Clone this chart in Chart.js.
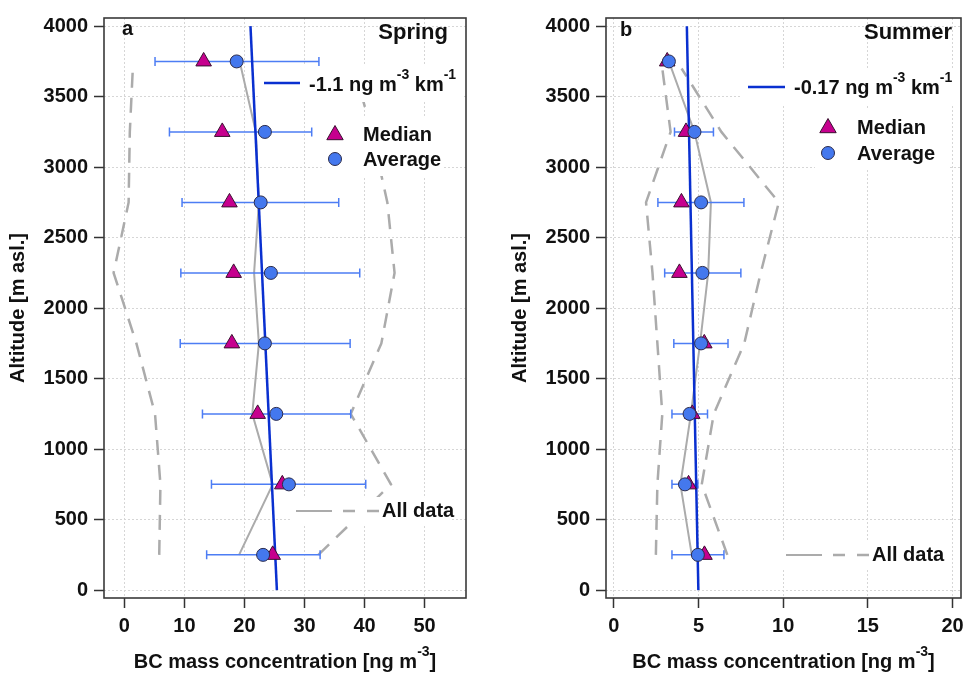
<!DOCTYPE html>
<html>
<head>
<meta charset="utf-8">
<script src="https://cdn.jsdelivr.net/npm/chart.js@4.4.1/dist/chart.umd.min.js"></script>
<style>
  html, body { margin: 0; padding: 0; background: #fff; }
  #wrap { position: relative; width: 971px; height: 673px; }
  canvas { position: absolute; top: 0; }
  #spring { left: 0; }
  #summer { left: 485px; }
</style>
</head>
<body>
<div id="wrap">
  <canvas id="spring" width="485" height="673"></canvas>
  <canvas id="summer" width="486" height="673"></canvas>
</div>
<script>
// altitude bins [m asl.]
const altitudes = [250, 750, 1250, 1750, 2250, 2750, 3250, 3750];
const bandAltitudes = [250, 750, 1250, 1750, 2250, 2750, 3250, 3700];
const yTicks = [0, 500, 1000, 1500, 2000, 2500, 3000, 3500, 4000];

// spring profiles [ng m-3]
const springAvg = [23.1, 27.4, 25.3, 23.4, 24.4, 22.7, 23.4, 18.7];
const springMedian = [24.7, 26.3, 22.2, 17.9, 18.2, 17.5, 16.3, 13.2];
const springSdLow = [13.7, 14.5, 13.0, 9.3, 9.4, 9.6, 7.5, 5.1];
const springSdHigh = [32.6, 40.2, 37.7, 37.6, 39.2, 35.7, 31.2, 32.4];
const springAllMedian = [19.1, 24.7, 21.3, 22.4, 21.6, 22.4, 21.9, 19.2];
const springAllLow = [5.8, 6.0, 5.1, 2.0, -1.8, 0.7, 0.9, 1.4];
const springAllHigh = [32.3, 44.4, 37.7, 42.8, 45.0, 43.8, 41.2, 38.3];
const springSlope = -1.1;      // ng m-3 km-1
const springIntercept = 25.4;
const springXTicks = [0, 10, 20, 30, 40, 50];

// summer profiles [ng m-3]
const summerAvg = [4.96, 4.2, 4.47, 5.15, 5.23, 5.15, 4.76, 3.25];
const summerMedian = [5.35, 4.41, 4.63, 5.34, 3.87, 3.99, 4.26, 3.15];
const summerSdLow = [3.43, 3.43, 3.43, 3.54, 3.0, 2.6, 3.58, 3.25];
const summerSdHigh = [6.5, 4.96, 5.53, 6.74, 7.5, 7.68, 5.88, 3.25];
const summerAllMedian = [4.6, 3.93, 4.55, 5.09, 5.57, 5.73, 4.76, 3.25];
const summerAllLow = [2.48, 2.57, 2.86, 2.57, 2.28, 1.9, 3.35, 2.86];
const summerAllHigh = [6.7, 5.19, 5.9, 7.7, 8.67, 9.74, 6.35, 4.0];
const summerSlope = -0.17;
const summerIntercept = 4.99;
const summerXTicks = [0, 5, 10, 15, 20];

const FONT = '"Liberation Sans", Arial, Helvetica, sans-serif';
const FS = 20;
const BLUE = '#4478EE';
const BAR_BLUE = '#4D7DF4';
const FIT_BLUE = '#0A30D0';
const MAGENTA = '#C6008E';
const GREY = '#ABABAB';
const INK = '#111';
const DASH = [15, 10];

function drawRich(ctx, parts, x, y, size, align) {
  const big = `bold ${size}px ${FONT}`;
  const small = `bold ${Math.round(size * 0.68)}px ${FONT}`;
  let total = 0;
  parts.forEach(([t, sup]) => { ctx.font = sup ? small : big; total += ctx.measureText(t).width; });
  let cx = align === 'center' ? x - total / 2 : align === 'right' ? x - total : x;
  ctx.textAlign = 'left';
  ctx.textBaseline = 'alphabetic';
  ctx.fillStyle = INK;
  parts.forEach(([t, sup]) => {
    ctx.font = sup ? small : big;
    ctx.fillText(t, cx, sup ? y - size * 0.62 : y);
    cx += ctx.measureText(t).width;
  });
}

function whiteBox(ctx, b) {
  ctx.fillStyle = '#fff';
  ctx.fillRect(b[0], b[1], b[2], b[3]);
}

const decor = {
  id: 'decor',
  beforeDatasetDraw(chart, args, o) {
    // error bars go under the fit line and the markers
    if (args.index !== 2) return;
    const ctx = chart.ctx, xs = chart.scales.x, ys = chart.scales.y;
    ctx.save();
    ctx.strokeStyle = BAR_BLUE;
    ctx.lineWidth = 1.5;
    o.low.forEach((lo, i) => {
      const hi = o.high[i];
      if (hi - lo <= 0) return;
      const y = ys.getPixelForValue(altitudes[i]);
      const x1 = xs.getPixelForValue(lo), x2 = xs.getPixelForValue(hi);
      ctx.beginPath();
      ctx.moveTo(x1, y); ctx.lineTo(x2, y);
      ctx.moveTo(x1, y - 4.5); ctx.lineTo(x1, y + 4.5);
      ctx.moveTo(x2, y - 4.5); ctx.lineTo(x2, y + 4.5);
      ctx.stroke();
    });
    ctx.restore();
  },
  afterDatasetsDraw(chart, args, o) {
    const ctx = chart.ctx;
    ctx.save();
    // fit legend
    whiteBox(ctx, o.fitBox);
    ctx.strokeStyle = FIT_BLUE;
    ctx.lineWidth = 2.5;
    ctx.beginPath();
    ctx.moveTo(o.fitLine[0], o.fitLine[2]);
    ctx.lineTo(o.fitLine[1], o.fitLine[2]);
    ctx.stroke();
    drawRich(ctx, [[o.fitLabel], ['-3', true], [' km'], ['-1', true]], o.fitText[0], o.fitText[1], FS, 'left');

    // marker legend
    whiteBox(ctx, o.markBox);
    const [mx, my1, my2, tx] = o.marks;
    ctx.lineWidth = 1;
    ctx.strokeStyle = '#3a1030';
    ctx.fillStyle = MAGENTA;
    ctx.beginPath();
    ctx.moveTo(mx, my1 - 9.5);
    ctx.lineTo(mx + 8.2, my1 + 4.7);
    ctx.lineTo(mx - 8.2, my1 + 4.7);
    ctx.closePath();
    ctx.fill(); ctx.stroke();
    ctx.strokeStyle = '#2b2b4b';
    ctx.fillStyle = BLUE;
    ctx.beginPath();
    ctx.arc(mx, my2, 6.5, 0, Math.PI * 2);
    ctx.fill(); ctx.stroke();
    ctx.fillStyle = INK;
    ctx.font = `bold ${FS}px ${FONT}`;
    ctx.textBaseline = 'middle';
    ctx.textAlign = 'left';
    ctx.fillText('Median', tx, my1);
    ctx.fillText('Average', tx, my2 + 1);

    // all-data legend: solid median then dashed band
    whiteBox(ctx, o.allBox);
    const [ax, ay] = o.allLine;
    ctx.strokeStyle = GREY;
    ctx.lineWidth = 2;
    ctx.beginPath();
    ctx.moveTo(ax, ay); ctx.lineTo(ax + 36, ay);
    ctx.stroke();
    ctx.lineWidth = 2.5;
    ctx.beginPath();
    ctx.moveTo(ax + 47, ay); ctx.lineTo(ax + 59, ay);
    ctx.moveTo(ax + 71, ay); ctx.lineTo(ax + 83, ay);
    ctx.stroke();
    ctx.fillStyle = INK;
    ctx.fillText('All data', ax + 86, ay);

    // panel letter and season
    ctx.font = `bold ${FS}px ${FONT}`;
    ctx.fillText(o.letter, o.letterPos[0], o.letterPos[1]);
    ctx.font = `bold 22px ${FONT}`;
    ctx.textAlign = 'right';
    ctx.fillText(o.season, o.seasonPos[0], o.seasonPos[1]);
    ctx.restore();
  },
  afterDraw(chart, args, o) {
    const ctx = chart.ctx, a = chart.chartArea;
    ctx.save();
    ctx.strokeStyle = '#3a3a3a';
    ctx.lineWidth = 1.6;
    ctx.strokeRect(a.left, a.top, a.right - a.left, a.bottom - a.top);

    // axis titles
    ctx.fillStyle = INK;
    ctx.font = `bold ${FS}px ${FONT}`;
    ctx.save();
    ctx.translate(o.yTitleX, (a.top + a.bottom) / 2);
    ctx.rotate(-Math.PI / 2);
    ctx.textAlign = 'center';
    ctx.textBaseline = 'middle';
    ctx.fillText('Altitude [m asl.]', 0, 0);
    ctx.restore();
    drawRich(ctx, [['BC mass concentration [ng m'], ['-3', true], [']']], (a.left + a.right) / 2, 668, FS, 'center');
    ctx.restore();
  }
};

function makePanel(canvasId, p) {
  const pts = (xs, ys) => xs.map((x, i) => ({ x, y: ys[i] }));
  const fitLine = [0, 4000].map(a => ({ x: p.intercept + p.slope * a / 1000, y: a }));
  const tickFont = { family: FONT, size: FS, weight: 'bold' };
  const plain = v => String(v);
  return new Chart(document.getElementById(canvasId), {
    type: 'scatter',
    data: {
      datasets: [
        { data: pts(p.avg, altitudes), pointStyle: 'circle', pointRadius: 6.5, backgroundColor: BLUE, borderColor: '#2b2b4b', borderWidth: 1 },
        { data: pts(p.median, altitudes), pointStyle: 'triangle', pointRadius: 9, backgroundColor: MAGENTA, borderColor: '#3a1030', borderWidth: 1 },
        { data: fitLine, showLine: true, pointRadius: 0, borderColor: FIT_BLUE, borderWidth: 2.5 },
        { data: pts(p.allMedian, altitudes), showLine: true, pointRadius: 0, borderColor: GREY, borderWidth: 2 },
        { data: pts(p.allLow, bandAltitudes), showLine: true, pointRadius: 0, borderColor: GREY, borderWidth: 2.5, borderDash: DASH },
        { data: pts(p.allHigh, bandAltitudes), showLine: true, pointRadius: 0, borderColor: GREY, borderWidth: 2.5, borderDash: DASH }
      ]
    },
    options: {
      responsive: false,
      animation: false,
      devicePixelRatio: 1,
      layout: { padding: { left: 0, right: p.padRight, top: 10, bottom: 0 } },
      scales: {
        x: {
          type: 'linear', min: p.xMin, max: p.xMax,
          afterBuildTicks: s => { s.ticks = p.xTicks.map(v => ({ value: v })); },
          afterFit: s => { s.height = 75; },
          grid: { color: '#d6d6d6', lineWidth: 1, tickColor: '#333', tickLength: 10, tickWidth: 1.5 },
          border: { display: false, dash: [2, 2] },
          ticks: { color: INK, font: tickFont, padding: 6, maxRotation: 0, autoSkip: false, callback: plain }
        },
        y: {
          type: 'linear', min: -56, max: 4058,
          afterBuildTicks: s => { s.ticks = yTicks.map(v => ({ value: v })); },
          afterFit: s => { s.width = p.yWidth; },
          grid: { color: '#d6d6d6', lineWidth: 1, tickColor: '#333', tickLength: 10, tickWidth: 1.5 },
          border: { display: false, dash: [2, 2] },
          ticks: { color: INK, font: tickFont, padding: 6, autoSkip: false, callback: plain }
        }
      },
      plugins: {
        legend: { display: false },
        tooltip: { enabled: false },
        decor: p.decor
      }
    },
    plugins: [decor]
  });
}

makePanel('spring', {
  avg: springAvg, median: springMedian, allMedian: springAllMedian,
  allLow: springAllLow, allHigh: springAllHigh,
  slope: springSlope, intercept: springIntercept,
  xMin: -3.4, xMax: 56.9, xTicks: springXTicks, yWidth: 104, padRight: 19,
  decor: {
    low: springSdLow, high: springSdHigh,
    fitBox: [258, 66, 204, 36], fitLine: [264, 300, 83], fitText: [309, 91], fitLabel: '-1.1 ng m',
    markBox: [323, 116, 119, 60], marks: [335, 135, 159, 363],
    allBox: [290, 497, 162, 28], allLine: [296, 511],
    letter: 'a', letterPos: [122, 29], season: 'Spring', seasonPos: [448, 33],
    yTitleX: 18
  }
});

makePanel('summer', {
  avg: summerAvg, median: summerMedian, allMedian: summerAllMedian,
  allLow: summerAllLow, allHigh: summerAllHigh,
  slope: summerSlope, intercept: summerIntercept,
  xMin: -0.465, xMax: 20.5, xTicks: summerXTicks, yWidth: 121, padRight: 4,
  decor: {
    low: summerSdLow, high: summerSdHigh,
    fitBox: [256, 70, 222, 36], fitLine: [263, 300, 87], fitText: [309, 94], fitLabel: '-0.17 ng m',
    markBox: [330, 108, 135, 62], marks: [343, 128, 153, 372],
    allBox: [295, 541, 170, 28], allLine: [301, 555],
    letter: 'b', letterPos: [135, 30], season: 'Summer', seasonPos: [467, 33],
    yTitleX: 35
  }
});
</script>
</body>
</html>
